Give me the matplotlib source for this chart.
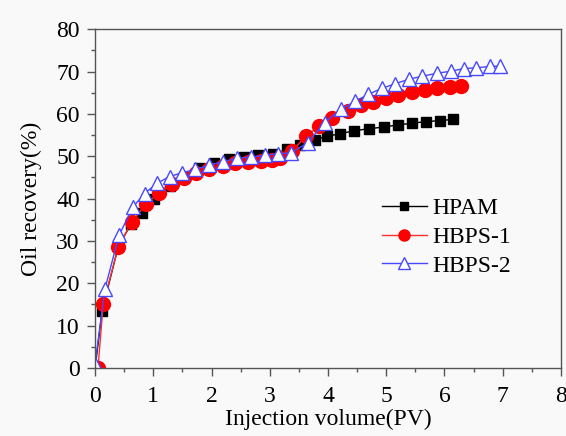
import matplotlib
matplotlib.use("Agg")
import matplotlib.pyplot as plt
from matplotlib.ticker import MultipleLocator

plt.rcParams['font.family'] = ['Liberation Serif', 'DejaVu Serif']

# HPAM
pv_hpam = [0, 0.12, 0.40, 0.62, 0.80, 1.02, 1.28, 1.52, 1.79, 2.05, 2.30, 2.55, 2.80, 3.05,
           3.30, 3.52, 3.77, 3.98, 4.20, 4.44, 4.70, 4.96, 5.20, 5.45, 5.68, 5.92, 6.14]
rec_hpam = [0, 13.5, 28.8, 34.0, 36.5, 40.0, 43.0, 45.0, 47.2, 48.5, 49.3, 49.8, 50.2, 50.5,
            51.6, 52.6, 53.9, 54.7, 55.3, 56.0, 56.5, 56.9, 57.4, 57.8, 58.2, 58.4, 58.7]

# HBPS-1
pv_hbps1 = [0.05, 0.14, 0.40, 0.63, 0.88, 1.10, 1.32, 1.53, 1.74, 1.96, 2.19, 2.41, 2.63, 2.85,
            3.03, 3.18, 3.38, 3.62, 3.84, 4.07, 4.35, 4.57, 4.77, 4.99, 5.21, 5.44, 5.66, 5.88,
            6.10, 6.29]
rec_hbps1 = [0, 15.2, 28.6, 34.5, 38.8, 41.4, 43.5, 44.8, 46.0, 46.9, 47.6, 48.3, 48.6, 48.8,
             49.2, 49.6, 51.2, 54.7, 57.1, 59.1, 60.7, 62.0, 62.9, 63.7, 64.4, 65.2, 65.6, 66.0,
             66.3, 66.6]

# HBPS-2
pv_hbps2 = [0, 0.17, 0.41, 0.65, 0.85, 1.06, 1.28, 1.49, 1.72, 1.96, 2.19, 2.44, 2.67, 2.91,
            3.14, 3.37, 3.65, 3.94, 4.22, 4.47, 4.69, 4.92, 5.15, 5.39, 5.62, 5.87, 6.12, 6.33,
            6.55, 6.78, 6.96]
rec_hbps2 = [1.0, 18.7, 31.3, 38.0, 41.2, 43.6, 45.2, 46.1, 46.9, 47.9, 48.7, 49.5, 49.8, 50.2,
             50.6, 50.8, 53.2, 57.9, 61.1, 63.0, 64.6, 66.0, 67.1, 68.2, 68.9, 69.6, 70.1, 70.7,
             70.9, 71.2, 71.3]

bg = '#f9f9f9'
fig = plt.figure(figsize=(5.66, 4.36), dpi=100, facecolor=bg)
ax = fig.add_axes([0.168, 0.156, 0.823, 0.777], facecolor=bg)

ax.plot(pv_hpam, rec_hpam, color='black', lw=1, marker='s', ms=7.5, mfc='black',
        mec='black', label='HPAM')
ax.plot(pv_hbps1, rec_hbps1, color='#ff3030', lw=1, marker='o', ms=10, mfc='red',
        mec='red', label='HBPS-1')
ax.plot(pv_hbps2, rec_hbps2, color='#4848ff', lw=1, marker='^', ms=10, mfc='white',
        mec='#4848ff', mew=1, label='HBPS-2')

ax.set_xlim(0, 8)
ax.set_ylim(0, 80)
ax.xaxis.set_major_locator(MultipleLocator(1))
ax.xaxis.set_minor_locator(MultipleLocator(0.5))
ax.yaxis.set_major_locator(MultipleLocator(10))
ax.yaxis.set_minor_locator(MultipleLocator(5))
ax.tick_params(which='major', direction='out', length=6, width=1, colors='#555555',
               labelcolor='black', labelsize=17)
ax.tick_params(axis='x', which='major', pad=7)
ax.tick_params(axis='y', which='major', pad=5)
ax.tick_params(which='minor', direction='out', length=3, width=1, colors='#555555')
for s in ax.spines.values():
    s.set_color('#555555')
    s.set_linewidth(1)

ax.set_xlabel('Injection volume(PV)', fontsize=17, labelpad=1)
ax.set_ylabel('Oil recovery(%)', fontsize=17, labelpad=10)

ax.legend(loc='upper left', bbox_to_anchor=(0.57, 0.565), frameon=False, fontsize=17,
          markerscale=0.8, handlelength=1.9, labelspacing=0.3, handletextpad=0.25)

fig.savefig('out.png', dpi=100, facecolor=bg)
